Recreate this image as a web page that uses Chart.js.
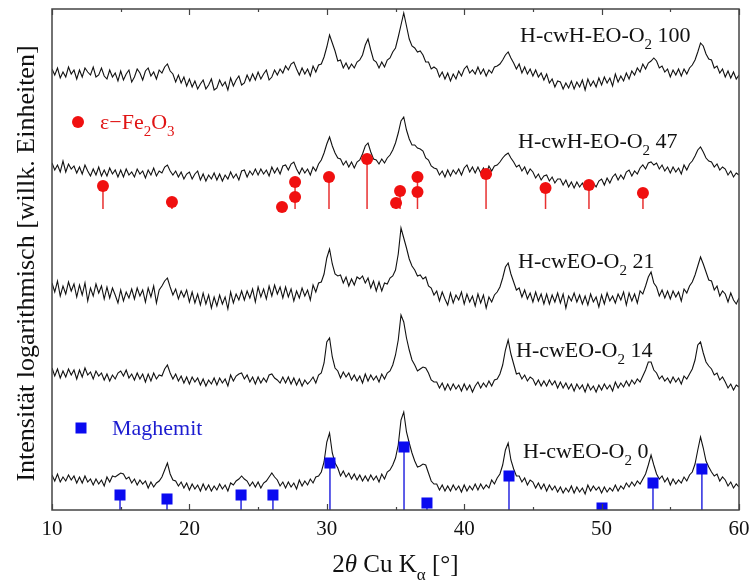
<!DOCTYPE html>
<html>
<head>
<meta charset="utf-8">
<script src="https://cdn.jsdelivr.net/npm/chart.js@4.4.1/dist/chart.umd.min.js"></script>
<style>
  html, body { margin: 0; padding: 0; background: #fff; }
  canvas { display: block; }
</style>
</head>
<body>
<canvas id="xrd" width="751" height="580"></canvas>
<script>
// Messpunkte: 2θ von 10° bis 60°, Schrittweite 0.2°
const twoThetaStart = 10;
const twoThetaStep = 0.2;

// Intensitäten (versetzt, willk. Einheiten), je Zeile 1 Grad
const traceO2_100 = [
  441,435,442,432,438, 433,443,436,440,431,
  440,433,442,438,435, 443,433,435,442,434,
  431,440,433,437,429, 439,430,436,440,428,
  433,441,437,430,439, 442,434,438,431,440,
  437,443,446,439,436, 428,435,427,433,424,
  431,423,429,421,426, 430,421,425,431,420,
  422,430,424,428,420, 432,424,430,434,425,
  427,435,429,436,430, 438,431,436,440,430,
  433,440,435,441,437, 444,440,446,448,441,
  435,442,436,441,434, 444,438,445,446,453,
  463,475,467,459,449, 450,442,447,441,446,
  442,448,450,455,465, 471,460,450,448,442,
  448,443,450,452,458, 462,473,485,497,484,
  471,464,462,458,459, 455,448,448,441,443,
  441,433,438,431,437, 429,436,431,439,434,
  441,444,437,440,436, 443,436,441,434,440,
  437,443,444,446,450, 455,458,452,447,441,
  446,437,443,436,441, 434,440,433,437,430,
  436,427,431,423,429, 428,421,427,422,429,
  421,428,423,430,420, 431,424,429,423,432,
  425,433,427,432,424, 436,428,434,429,437,
  431,439,435,442,438, 446,441,447,449,452,
  449,442,444,438,441, 433,440,435,441,434,
  441,436,442,445,450, 458,467,464,456,451,
  450,442,444,437,441, 433,439,432,438,431,
  435
];

const traceO2_47 = [
  347,340,345,338,349, 338,346,341,344,337,
  343,336,345,339,334, 341,335,343,334,340,
  334,342,336,340,333, 340,333,341,335,338,
  333,341,336,339,332, 340,335,342,334,339,
  337,343,345,339,335, 339,333,338,331,336,
  338,331,336,339,330, 336,329,335,331,337,
  330,336,329,335,331, 338,332,336,330,339,
  340,333,339,335,341, 335,341,336,340,334,
  343,337,342,336,344, 345,340,346,348,341,
  336,342,337,341,335, 343,339,346,350,357,
  366,373,364,357,352, 351,345,349,343,348,
  342,348,350,356,364, 367,358,351,350,346,
  351,347,352,355,360, 367,377,389,393,380,
  371,365,365,362,361, 359,352,350,344,342,
  341,335,339,333,340, 334,340,336,341,335,
  342,345,338,343,337, 343,337,342,336,344,
  339,344,345,348,352, 355,357,352,348,343,
  345,339,343,336,341, 338,332,336,330,334,
  335,329,333,327,331, 331,325,330,323,328,
  322,328,323,327,321, 328,322,327,323,329,
  331,325,332,327,333, 336,330,335,331,338,
  340,334,339,336,342, 345,341,347,348,345,
  347,341,345,339,343, 337,343,338,342,336,
  345,340,346,349,354, 360,363,358,352,349,
  348,343,346,340,343, 341,335,339,333,337,
  335
];

const traceO2_21 = [
  227,218,229,214,224, 216,228,219,226,213,
  225,215,227,209,222, 214,226,217,224,211,
  223,212,222,215,207, 220,209,218,212,221,
  211,222,214,220,208, 222,213,224,207,220,
  224,229,232,223,215, 221,211,219,213,220,
  208,218,207,216,205, 217,206,215,202,213,
  204,215,206,213,201, 218,207,216,210,219,
  210,219,212,221,208, 223,213,221,211,224,
  214,225,216,223,212, 223,213,221,209,219,
  212,222,214,220,210, 225,218,227,228,236,
  252,261,246,236,234, 235,227,233,224,231,
  225,233,231,234,227, 232,222,229,219,228,
  219,227,226,232,234, 240,256,282,272,262,
  251,244,240,234,235, 231,233,224,222,215,
  219,209,218,211,205, 217,207,215,210,218,
  206,216,208,214,204, 216,207,215,202,213,
  208,215,218,223,232, 243,247,236,228,220,
  222,213,220,211,217, 208,218,209,216,206,
  216,206,215,208,217, 207,216,202,214,209,
  217,208,215,206,214, 205,216,208,213,203,
  215,206,217,209,214, 207,216,210,218,205,
  217,209,216,207,219, 216,224,233,238,227,
  223,214,220,212,219, 211,219,213,218,209,
  221,217,224,228,235, 244,253,246,238,230,
  229,220,224,214,219, 216,208,217,210,206,
  212
];

const traceO2_14 = [
  142,134,141,132,139, 133,141,135,140,131,
  140,133,142,135,138, 131,139,134,137,130,
  136,129,135,131,137, 139,134,140,132,136,
  130,137,131,136,128, 136,129,137,131,135,
  134,141,145,137,131, 136,129,134,127,133,
  126,133,128,132,125, 131,124,130,126,132,
  125,132,127,131,124, 135,129,134,136,137,
  131,135,128,133,126, 133,127,132,128,135,
  136,132,130,127,133, 127,133,126,132,125,
  131,124,130,126,129, 133,127,135,137,147,
  168,172,153,142,139, 132,138,133,137,130,
  135,129,134,127,136, 129,135,130,134,128,
  136,131,137,139,145, 155,170,195,188,172,
  160,150,145,139,141, 143,142,137,130,128,
  128,122,127,120,126, 120,126,121,125,119,
  126,120,125,118,124, 128,122,127,123,129,
  124,130,131,136,145, 160,170,156,146,136,
  137,131,135,129,133, 131,125,130,124,129,
  124,130,125,129,122, 128,122,127,121,126,
  119,126,121,125,118, 126,120,124,118,125,
  120,126,121,125,119, 128,122,127,123,129,
  124,130,126,131,128, 134,140,148,148,140,
  137,131,134,129,132, 127,133,128,132,126,
  134,131,136,141,150, 165,168,157,148,144,
  141,135,137,130,133, 128,122,126,120,125,
  123
];

const traceO2_0 = [
  35,29,36,28,33, 29,35,30,34,27,
  33,27,34,28,31, 25,31,26,30,24,
  33,28,34,33,35, 37,36,31,33,27,
  31,25,30,26,29, 22,28,23,27,29,
  33,40,47,36,30, 29,24,28,22,27,
  20,26,21,25,19, 26,20,25,19,24,
  20,26,21,25,19, 27,25,29,31,34,
  31,29,24,28,23, 28,22,27,29,33,
  37,33,30,24,28, 22,28,23,27,21,
  30,24,29,25,31, 27,33,34,38,48,
  68,77,57,47,42, 34,39,33,37,31,
  36,30,35,29,34, 29,35,30,34,28,
  36,31,38,40,45, 52,65,90,98,78,
  67,57,49,43,44, 46,45,37,29,26,
  26,20,25,19,24, 19,25,20,24,18,
  25,19,24,20,26, 20,26,21,25,22,
  30,26,32,36,45, 60,67,50,41,34,
  34,28,32,25,30, 28,22,27,21,26,
  19,25,20,24,18, 23,17,22,18,24,
  17,23,18,22,16, 25,19,24,20,23,
  17,23,18,22,19, 25,19,24,21,27,
  23,28,24,29,26, 31,36,45,55,45,
  36,31,34,28,32, 25,31,26,30,27,
  33,29,35,38,46, 60,73,62,49,43,
  38,34,36,29,33, 30,24,28,22,26,
  23
];

// Referenzreflexe ε-Fe2O3 (Lage in 2θ, Markerhöhe)
const fe2o3Pos = [13.71, 18.73, 26.74, 27.69, 27.69, 30.16, 32.93, 35.04, 35.33, 36.60, 36.60, 41.59, 45.92, 49.08, 53.01];
const fe2o3Int = [324, 308, 303, 328, 313, 333, 351, 307, 319, 333, 318, 336, 322, 325, 317];
const fe2o3Base = 301;

// Referenzreflexe Maghemit
const maghemitPos = [14.95, 18.37, 23.76, 26.08, 30.23, 35.62, 37.29, 43.26, 50.03, 53.74, 57.30];
const maghemitInt = [15, 11, 15, 15, 47, 63, 7, 34, 2, 27, 41];
const maghemitBase = 0;

const xTickValues = [10, 20, 30, 40, 50, 60];
const xMinorTicks = [15, 25, 35, 45, 55];

const SERIF = "'Liberation Serif', 'DejaVu Serif', serif";

const toPoints = arr => arr.map((v, i) => ({ x: twoThetaStart + i * twoThetaStep, y: v }));

function stemPoints(pos, vals, base) {
    const pts = [];
    pos.forEach((p, i) => {
        pts.push({ x: p, y: base }, { x: p, y: vals[i] }, { x: p, y: null });
    });
    return pts;
}

const traceDs = arr => ({
    type: 'line',
    data: toPoints(arr),
    borderColor: '#111',
    borderWidth: 1.1,
    pointRadius: 0,
    tension: 0,
    order: 3
});

// Text mit Tief-/Kursivteilen zeichnen: parts = [[text, 'sub'|'it'|'']]
function drawRich(ctx, parts, x, y, size, color, align) {
    const fontFor = k => k === 'sub' ? `${Math.round(size * 0.68)}px ${SERIF}`
        : k === 'it' ? `italic ${size}px ${SERIF}` : `${size}px ${SERIF}`;
    let total = 0;
    parts.forEach(([t, k]) => { ctx.font = fontFor(k); total += ctx.measureText(t).width; });
    let cx = align === 'center' ? x - total / 2 : x;
    ctx.fillStyle = color;
    ctx.textAlign = 'left';
    ctx.textBaseline = 'alphabetic';
    parts.forEach(([t, k]) => {
        ctx.font = fontFor(k);
        ctx.fillText(t, cx, k === 'sub' ? y + size * 0.3 : y);
        cx += ctx.measureText(t).width;
    });
}

const decorPlugin = {
    id: 'decor',
    afterDraw(chart) {
        const { ctx, chartArea: a, scales: { x } } = chart;
        ctx.save();

        // Rahmen
        ctx.strokeStyle = '#444';
        ctx.lineWidth = 1.5;
        ctx.strokeRect(a.left, a.top, a.right - a.left, a.bottom - a.top);

        // Ticks nach innen
        ctx.lineWidth = 1.2;
        ctx.beginPath();
        xTickValues.forEach(v => {
            const px = Math.round(x.getPixelForValue(v)) + 0.5;
            ctx.moveTo(px, a.bottom); ctx.lineTo(px, a.bottom - 6);
            ctx.moveTo(px, a.top); ctx.lineTo(px, a.top + 6);
        });
        xMinorTicks.forEach(v => {
            const px = Math.round(x.getPixelForValue(v)) + 0.5;
            ctx.moveTo(px, a.bottom); ctx.lineTo(px, a.bottom - 3);
            ctx.moveTo(px, a.top); ctx.lineTo(px, a.top + 3);
        });
        ctx.stroke();

        // Tick-Beschriftung
        ctx.fillStyle = '#111';
        ctx.font = `21px ${SERIF}`;
        ctx.textAlign = 'center';
        ctx.textBaseline = 'alphabetic';
        xTickValues.forEach(v => ctx.fillText(String(v), x.getPixelForValue(v), 535));

        // Achsentitel
        drawRich(ctx, [['2', ''], ['\u03b8', 'it'], [' Cu K', ''], ['\u03b1', 'sub'], [' [\u00b0]', '']],
            (a.left + a.right) / 2, 572, 25, '#111', 'center');

        ctx.save();
        ctx.translate(34, (a.top + a.bottom) / 2 + 4);
        ctx.rotate(-Math.PI / 2);
        ctx.font = `26px ${SERIF}`;
        ctx.textAlign = 'center';
        ctx.fillStyle = '#111';
        ctx.fillText('Intensit\u00e4t logarithmisch [willk. Einheiten]', 0, 0);
        ctx.restore();

        // Probenbezeichnungen
        drawRich(ctx, [['H-cwH-EO-O', ''], ['2', 'sub'], [' 100', '']], 520, 42, 22, '#111');
        drawRich(ctx, [['H-cwH-EO-O', ''], ['2', 'sub'], [' 47', '']], 518, 148, 22, '#111');
        drawRich(ctx, [['H-cwEO-O', ''], ['2', 'sub'], [' 21', '']], 518, 268, 22, '#111');
        drawRich(ctx, [['H-cwEO-O', ''], ['2', 'sub'], [' 14', '']], 516, 357, 22, '#111');
        drawRich(ctx, [['H-cwEO-O', ''], ['2', 'sub'], [' 0', '']], 523, 458, 22, '#111');

        // Legende
        ctx.fillStyle = '#f01010';
        ctx.beginPath();
        ctx.arc(78, 122, 6, 0, Math.PI * 2);
        ctx.fill();
        drawRich(ctx, [['\u03b5\u2212Fe', ''], ['2', 'sub'], ['O', ''], ['3', 'sub']], 100, 129, 22, '#e01414');

        ctx.fillStyle = '#0a0af0';
        ctx.fillRect(75.5, 422.5, 11, 11);
        drawRich(ctx, [['Maghemit', '']], 112, 435, 22, '#1c1cd0');

        ctx.restore();
    }
};

new Chart(document.getElementById('xrd'), {
    type: 'scatter',
    data: {
        datasets: [
            {
                type: 'scatter',
                data: fe2o3Pos.map((p, i) => ({ x: p, y: fe2o3Int[i] })),
                pointStyle: 'circle',
                pointRadius: 6,
                backgroundColor: '#f01010',
                borderWidth: 0,
                order: 0
            },
            {
                type: 'scatter',
                data: maghemitPos.map((p, i) => ({ x: p, y: maghemitInt[i] })),
                pointStyle: 'rect',
                pointRadius: 7.8,
                backgroundColor: '#0a0af0',
                borderWidth: 0,
                order: 0
            },
            {
                type: 'line',
                data: stemPoints(fe2o3Pos, fe2o3Int, fe2o3Base),
                borderColor: '#e83030',
                borderWidth: 1.5,
                pointRadius: 0,
                spanGaps: false,
                order: 1
            },
            {
                type: 'line',
                data: stemPoints(maghemitPos, maghemitInt, maghemitBase),
                borderColor: '#2a2ae0',
                borderWidth: 1.5,
                pointRadius: 0,
                spanGaps: false,
                order: 1
            },
            traceDs(traceO2_100),
            traceDs(traceO2_47),
            traceDs(traceO2_21),
            traceDs(traceO2_14),
            traceDs(traceO2_0)
        ]
    },
    options: {
        responsive: false,
        animation: false,
        devicePixelRatio: 1,
        layout: { padding: { left: 52, right: 12, top: 9, bottom: 70 } },
        plugins: {
            legend: { display: false },
            tooltip: { enabled: false }
        },
        scales: {
            x: { type: 'linear', min: 10, max: 60, display: false },
            y: { type: 'linear', min: 0, max: 501, display: false }
        }
    },
    plugins: [decorPlugin]
});
</script>
</body>
</html>
